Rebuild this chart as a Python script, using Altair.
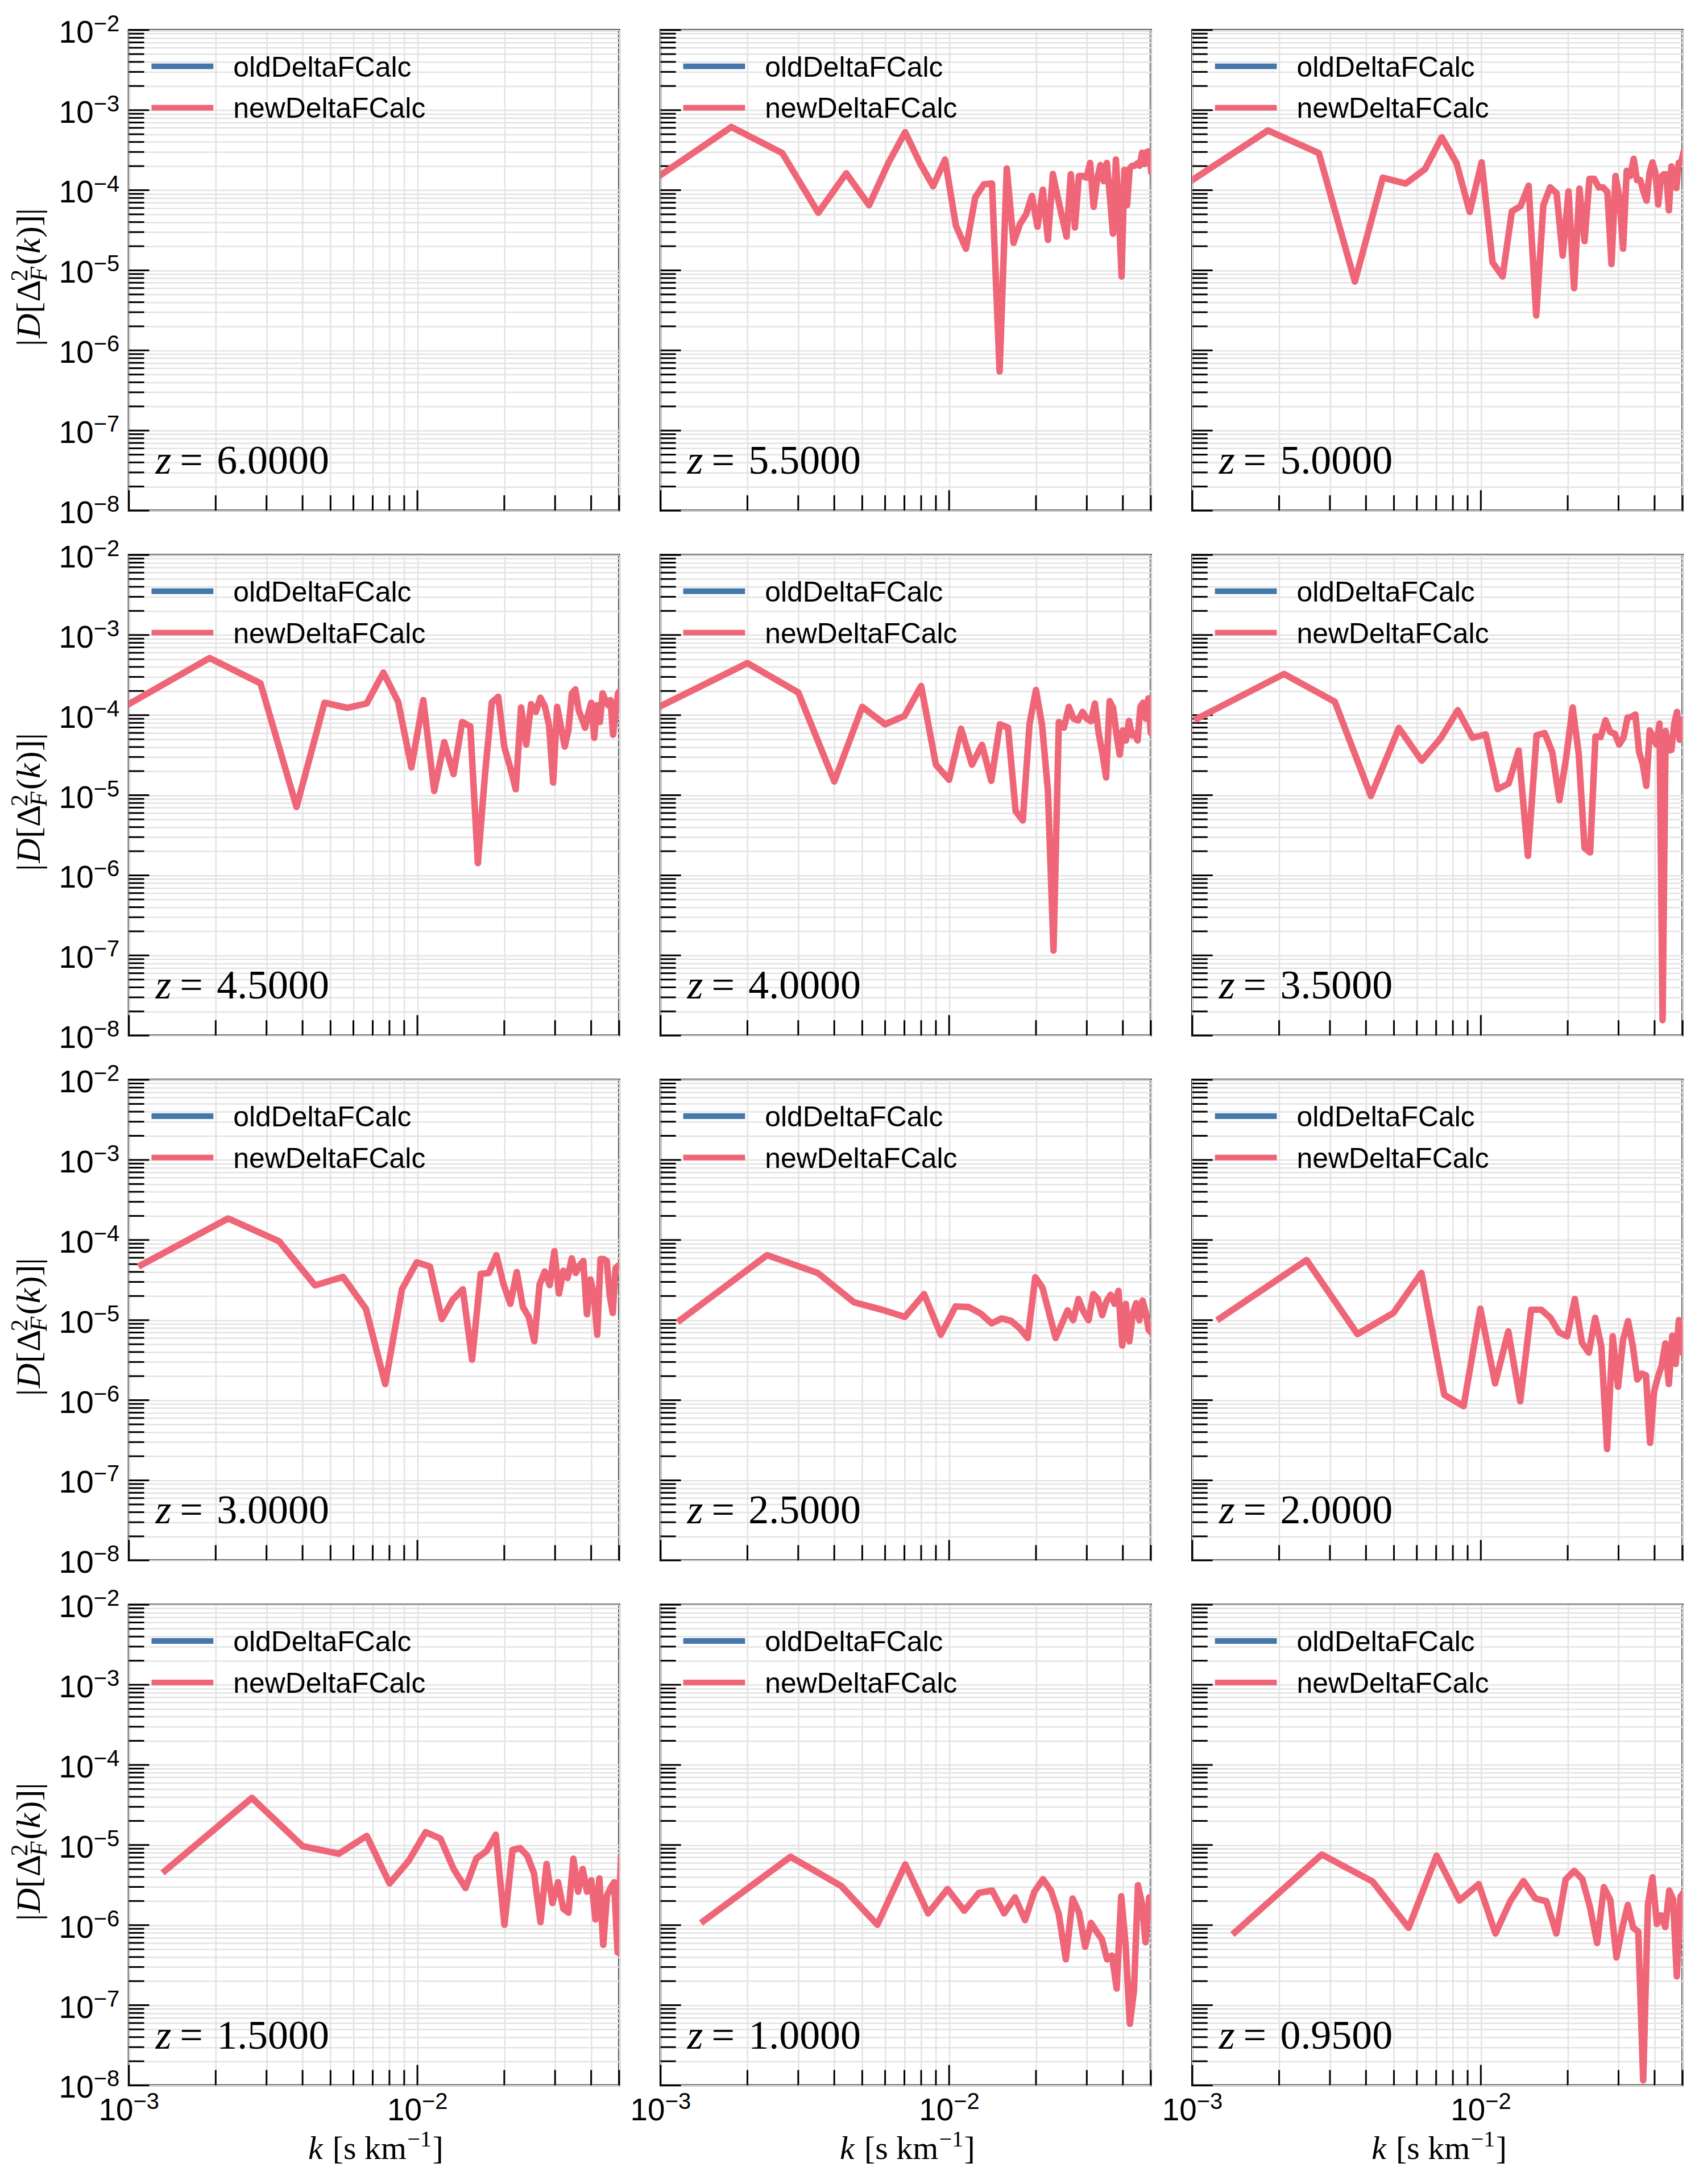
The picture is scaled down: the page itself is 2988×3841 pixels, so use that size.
import altair as alt
import pandas as pd

# ---------------- data ----------------
z_labels = ["6.0000", "5.5000", "5.0000", "4.5000", "4.0000", "3.5000",
            "3.0000", "2.5000", "2.0000", "1.5000", "1.0000", "0.9500"]

# spacing of the k grid (k_n = n * dk) read per panel, in s/km
k_step = [0.85e-3, 0.88e-3, 0.915e-3, 0.953e-3, 1.0e-3, 1.04e-3,
          1.105e-3, 1.17e-3, 1.245e-3, 1.335e-3, 1.41e-3, 1.405e-3]

series_names = ["oldDeltaFCalc", "newDeltaFCalc"]
series_colors = ["#4477AA", "#EE6677"]

# log10 |D[Delta_F^2(k)]| of newDeltaFCalc for n = 1, 2, 3, ...
log10_newD_z6p00 = []
log10_newD_z5p50 = [-3.947, -3.211, -3.536, -4.281, -3.789, -4.187, -3.660, -3.275, -3.660, -3.951,
                    -3.617, -4.443, -4.730, -4.088, -3.926, -3.917, -6.262, -3.729, -4.657, -4.422,
                    -4.302, -4.071, -4.456, -3.994, -4.619, -3.797, -4.080, -4.336, -4.580, -3.801,
                    -4.465, -3.823, -3.823, -3.844, -3.660, -4.208, -3.866, -3.686, -3.887, -3.660,
                    -4.080, -4.542, -3.617, -4.251, -5.077, -3.746, -4.187, -3.729, -3.694, -3.694,
                    -3.665, -3.694, -3.532, -3.673, -3.523, -3.515, -3.759]
log10_newD_z5p00 = [-3.964, -3.254, -3.536, -5.141, -3.844, -3.917, -3.737, -3.339, -3.660, -4.272,
                    -3.652, -4.901, -5.077, -4.264, -4.199, -3.943, -5.564, -4.187, -3.964, -4.037,
                    -4.816, -4.015, -5.222, -3.981, -4.636, -3.857, -3.857, -3.964, -3.964, -4.024,
                    -4.923, -3.823, -4.080, -4.730, -3.759, -3.823, -3.609, -3.874, -3.874, -4.015,
                    -4.131, -3.780, -3.652, -3.780, -4.178, -3.836, -3.801, -3.801, -4.251, -3.703,
                    -3.823, -3.973, -3.660, -3.652, -3.536]
log10_newD_z4p50 = [-3.905, -3.288, -3.603, -5.147, -3.846, -3.909, -3.855, -3.469, -3.834, -4.652,
                    -3.813, -4.946, -4.337, -4.736, -4.086, -4.140, -5.848, -4.736, -3.842, -3.771,
                    -4.400, -4.652, -4.925, -3.905, -4.367, -3.863, -3.960, -3.783, -3.888, -4.128,
                    -4.841, -3.897, -4.149, -4.392, -4.191, -3.729, -3.679, -3.939, -4.044, -4.157,
                    -3.981, -3.846, -4.283, -3.876, -4.086, -3.729, -3.813, -3.876, -3.813, -4.245,
                    -3.981, -3.729, -3.687]
log10_newD_z4p00 = [-3.888, -3.351, -3.716, -4.828, -3.897, -4.115, -4.010, -3.637, -4.619, -4.807,
                    -4.170, -4.619, -4.371, -4.820, -4.115, -4.157, -5.198, -5.315, -4.107, -3.687,
                    -4.128, -4.946, -6.939, -4.086, -4.157, -3.897, -4.044, -4.065, -3.960, -4.044,
                    -4.077, -3.855, -4.232, -4.484, -4.778, -3.825, -3.909, -4.232, -4.493, -4.191,
                    -4.316, -4.073, -4.253, -4.232, -4.316, -3.897, -3.846, -4.044, -3.792, -4.224,
                    -4.065]
log10_newD_z3p50 = [-4.044, -3.486, -3.834, -5.009, -4.161, -4.568, -4.283, -3.939, -4.283, -4.241,
                    -4.925, -4.854, -4.442, -5.756, -4.253, -4.224, -4.463, -5.063, -4.526, -3.905,
                    -4.484, -5.659, -5.714, -4.266, -4.274, -4.065, -4.211, -4.232, -4.367, -4.283,
                    -4.031, -4.023, -3.993, -4.463, -4.610, -4.883, -4.191, -4.274, -4.367, -4.107,
                    -7.808, -4.199, -4.442, -4.434, -4.107, -3.960, -4.308, -4.065]
log10_newD_z3p00 = [-4.311, -3.731, -4.015, -4.566, -4.460, -4.858, -5.798, -4.615, -4.278, -4.331,
                    -4.987, -4.744, -4.615, -5.494, -4.424, -4.412, -4.189, -4.554, -4.797, -4.400,
                    -4.837, -4.959, -5.263, -4.554, -4.392, -4.562, -4.140, -4.667, -4.383, -4.473,
                    -4.229, -4.412, -4.319, -4.262, -4.927, -4.493, -4.675, -5.182, -4.238, -4.238,
                    -4.262, -4.696, -4.910, -4.351, -4.319, -4.351]
log10_newD_z2p50 = [-5.000, -4.189, -4.412, -4.777, -4.870, -4.959, -4.675, -5.182, -4.829, -4.837,
                    -4.919, -5.040, -4.979, -5.008, -5.101, -5.223, -4.465, -4.594, -4.919, -5.223,
                    -5.048, -4.878, -5.000, -4.736, -4.898, -5.000, -4.675, -4.736, -4.939, -4.764,
                    -4.683, -4.797, -4.635, -5.316, -4.797, -5.263, -4.919, -4.789, -5.000, -4.756,
                    -4.898, -5.121, -5.162, -5.162]
log10_newD_z2p00 = [-4.979, -4.250, -5.174, -4.910, -4.412, -5.932, -6.074, -4.858, -5.790, -5.141,
                    -6.013, -4.870, -4.870, -4.971, -5.154, -5.202, -4.736, -5.283, -5.405, -4.971,
                    -5.324, -6.609, -5.202, -5.831, -5.243, -5.012, -5.324, -5.741, -5.668, -5.689,
                    -6.532, -5.891, -5.709, -5.567, -5.291, -5.798, -5.194, -5.547, -5.000, -5.405,
                    -5.202]
log10_newD_z1p50 = [-5.322, -4.412, -5.014, -5.109, -4.886, -5.479, -5.194, -4.839, -4.919, -5.299,
                    -5.536, -5.166, -5.076, -4.872, -5.995, -5.062, -5.038, -5.133, -5.355, -5.962,
                    -5.237, -5.725, -5.464, -5.796, -5.844, -5.171, -5.583, -5.299, -5.583, -5.441,
                    -5.929, -5.417, -6.246, -5.630, -5.536, -5.464, -6.341, -5.156]
log10_newD_z1p00 = [-5.948, -5.147, -5.512, -5.995, -5.242, -5.853, -5.550, -5.820, -5.597, -5.569,
                    -5.853, -5.654, -5.938, -5.583, -5.427, -5.573, -5.858, -6.427, -5.668, -5.844,
                    -6.270, -5.972, -6.081, -6.175, -6.427, -6.379, -6.791, -5.640, -6.246, -7.232,
                    -6.815, -5.502, -5.725, -6.213, -5.654, -5.678]
log10_newD_z0p95 = [-6.090, -5.118, -5.455, -6.033, -5.133, -5.692, -5.488, -6.104, -5.701, -5.450,
                    -5.668, -5.701, -6.104, -5.431, -5.322, -5.427, -5.773, -6.223, -5.526, -5.687,
                    -6.403, -6.033, -5.749, -6.033, -6.081, -7.938, -5.739, -5.403, -5.986, -5.877,
                    -6.024, -5.569, -5.678, -6.640, -5.645, -5.583]

panel_series = [log10_newD_z6p00, log10_newD_z5p50, log10_newD_z5p00, log10_newD_z4p50,
                log10_newD_z4p00, log10_newD_z3p50, log10_newD_z3p00, log10_newD_z2p50,
                log10_newD_z2p00, log10_newD_z1p50, log10_newD_z1p00, log10_newD_z0p95]

# axis ticks / labels
x_domain = [1e-3, 5e-2]
y_domain = [1e-8, 1e-2]
x_major_ticks = [1e-3, 1e-2]
x_minor_ticks = [2e-3, 3e-3, 4e-3, 5e-3, 6e-3, 7e-3, 8e-3, 9e-3, 2e-2, 3e-2, 4e-2, 5e-2]
y_major_ticks = [1e-8, 1e-7, 1e-6, 1e-5, 1e-4, 1e-3, 1e-2]
y_minor_ticks = [m * 10.0 ** e for e in range(-8, -2) for m in range(2, 10)]
x_tick_exponents = ["−3", "−2"]
y_tick_exponents = ["−8", "−7", "−6", "−5", "−4", "−3", "−2"]

# ---------------- styling ----------------
W, H = 864, 847
HSPACE, VSPACE = 73, 78
GRID = "#e3e3e3"
SANS = "Liberation Sans"
SERIF = "Liberation Serif"
TICK_FS, EXP_FS = 55, 40
LEGEND_FS = 50


def text_layer(s, x, y, size, font, style="normal", align="left",
               baseline="alphabetic", angle=0):
    kw = dict(align=align, baseline=baseline, font=font, fontSize=size,
              fontStyle=style, color="black")
    if angle:
        kw["angle"] = angle
    return alt.Chart(pd.DataFrame({"t": [s]})).mark_text(**kw).encode(
        text="t:N", x=alt.value(x), y=alt.value(y))


def panel(idx, left, bottom):
    xs = alt.Scale(type="log", domain=x_domain, nice=False)
    ys = alt.Scale(type="log", domain=y_domain, nice=False)
    xaxis = alt.Axis(values=x_major_ticks + x_minor_ticks, grid=True, gridColor=GRID,
                     gridWidth=2.5, domain=False, ticks=False, tickSize=0,
                     labels=False, title=None, orient="bottom")
    yaxis = alt.Axis(values=y_major_ticks + y_minor_ticks, grid=True, gridColor=GRID,
                     gridWidth=2.5, domain=False, ticks=False, tickSize=0,
                     labels=False, title=None, orient="left")

    layers = []
    # inward ticks
    for vals, ln in ((y_major_ticks, 36), (y_minor_ticks, 27)):
        layers.append(alt.Chart(pd.DataFrame({"v": vals})).mark_rule(
            color="black", strokeWidth=3).encode(
            y=alt.Y("v:Q", scale=ys, axis=yaxis), x=alt.value(0), x2=alt.value(ln)))
    for vals, ln in ((x_major_ticks, 36), (x_minor_ticks, 27)):
        layers.append(alt.Chart(pd.DataFrame({"v": vals})).mark_rule(
            color="black", strokeWidth=3).encode(
            x=alt.X("v:Q", scale=xs, axis=xaxis), y=alt.value(H), y2=alt.value(H - ln)))

    logs = panel_series[idx]
    if len(logs) == 0:
        df = pd.DataFrame({"k": pd.Series([], dtype=float), "D": pd.Series([], dtype=float)})
    else:
        df = pd.DataFrame({"k": [(n + 1) * k_step[idx] for n in range(len(logs))],
                           "D": [10.0 ** v for v in logs]})
    layers.append(alt.Chart(df).mark_line(
        color=series_colors[1], strokeWidth=11.5, clip=True, strokeJoin="round",
        strokeCap="square").encode(
        x=alt.X("k:Q", scale=xs, axis=xaxis), y=alt.Y("D:Q", scale=ys, axis=yaxis)))

    # legend (frameless, top-left)
    for j, (name, col) in enumerate(zip(series_names, series_colors)):
        ly = 64 + 73 * j
        layers.append(alt.Chart(pd.DataFrame({"s": [name]})).mark_rule(
            color=col, strokeWidth=10).encode(
            x=alt.value(40), x2=alt.value(149), y=alt.value(ly)))
        layers.append(text_layer(name, 184, ly + 18, LEGEND_FS, SANS))

    # redshift label
    zb = H - 65
    layers.append(text_layer("z", 47, zb, 72, SERIF, style="italic"))
    layers.append(text_layer("=", 90, zb, 72, SERIF))
    layers.append(text_layer(z_labels[idx], 155, zb, 72, SERIF))

    if left:
        ydf = pd.DataFrame({"v": y_major_ticks, "base": ["10"] * len(y_major_ticks),
                            "exp": y_tick_exponents})
        layers.append(alt.Chart(ydf).mark_text(
            align="right", baseline="alphabetic", font=SANS, fontSize=TICK_FS,
            color="black", dy=22).encode(
            y=alt.Y("v:Q", scale=ys, axis=yaxis), x=alt.value(-62), text="base:N"))
        layers.append(alt.Chart(ydf).mark_text(
            align="left", baseline="alphabetic", font=SANS, fontSize=EXP_FS,
            color="black", dy=2).encode(
            y=alt.Y("v:Q", scale=ys, axis=yaxis), x=alt.value(-62), text="exp:N"))

        bx = -157
        layers.append(text_layer("|", bx, 557, 60, SERIF, angle=270))
        layers.append(text_layer("D", bx, 543, 60, SERIF, style="italic", angle=270))
        layers.append(text_layer("[Δ", bx, 499, 60, SERIF, angle=270))
        layers.append(text_layer("2", bx - 22, 443, 42, SERIF, angle=270))
        layers.append(text_layer("F", bx + 12, 443, 42, SERIF, style="italic", angle=270))
        layers.append(text_layer("(", bx, 414, 60, SERIF, angle=270))
        layers.append(text_layer("k", bx, 394, 60, SERIF, style="italic", angle=270))
        layers.append(text_layer(")]|", bx, 366, 60, SERIF, angle=270))
    if bottom:
        xdf = pd.DataFrame({"v": x_major_ticks, "base": ["10"] * len(x_major_ticks),
                            "exp": x_tick_exponents})
        layers.append(alt.Chart(xdf).mark_text(
            align="right", baseline="alphabetic", font=SANS, fontSize=TICK_FS,
            color="black", dx=8).encode(
            x=alt.X("v:Q", scale=xs, axis=xaxis), y=alt.value(H + 62), text="base:N"))
        layers.append(alt.Chart(xdf).mark_text(
            align="left", baseline="alphabetic", font=SANS, fontSize=EXP_FS,
            color="black", dx=8).encode(
            x=alt.X("v:Q", scale=xs, axis=xaxis), y=alt.value(H + 42), text="exp:N"))

        tb = H + 130
        layers.append(text_layer("k", 316, tb, 58, SERIF, style="italic"))
        layers.append(text_layer("[s km", 359, tb, 58, SERIF))
        layers.append(text_layer("−1", 491, tb - 22, 40, SERIF))
        layers.append(text_layer("]", 535, tb, 58, SERIF))

    return alt.layer(*layers).properties(width=W, height=H)


panels = [panel(i, i % 3 == 0, i // 3 == 3) for i in range(12)]

chart = alt.concat(*panels, columns=3, spacing={"row": VSPACE, "column": HSPACE},
                   bounds="flush").properties(
    padding={"left": 12, "top": 17, "right": 25, "bottom": 33},
    background="white",
).configure_view(stroke="black", strokeWidth=3.5)

chart.save("out.html", embed_options={"renderer": "svg", "actions": False})
